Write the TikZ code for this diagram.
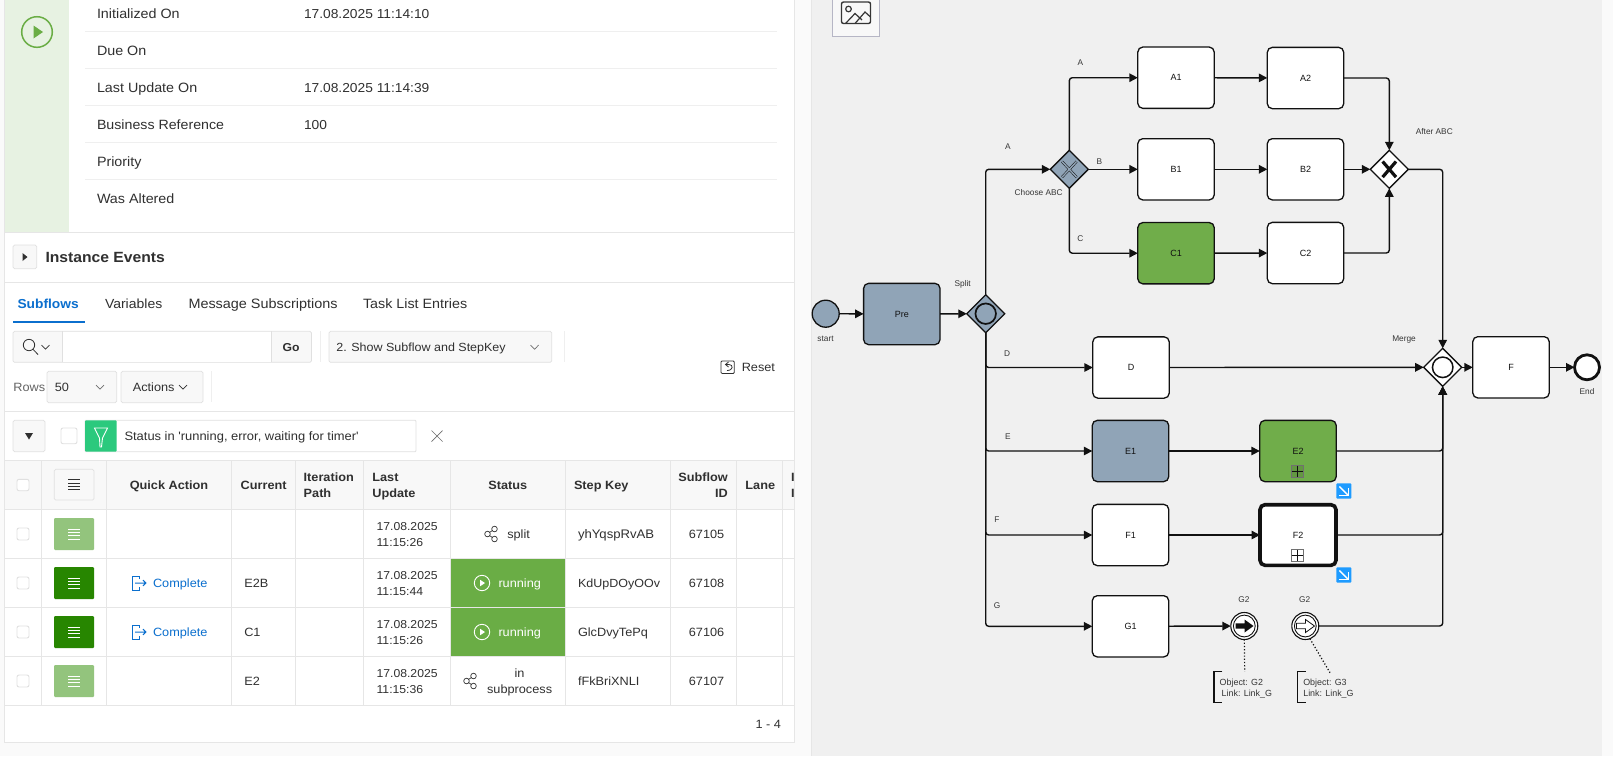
\documentclass[tikz,border=0pt]{standalone}
\usepackage{fontspec}
\usetikzlibrary{arrows.meta,shapes.geometric}
\newfontfamily\uifam[FakeStretch=1.06]{Liberation Sans}
\newfontfamily\diafam{Liberation Sans}
\definecolor{pagebg}{HTML}{FAFAFA}
\definecolor{rule}{HTML}{E6E6E6}
\definecolor{softrule}{HTML}{EFEFEF}
\definecolor{softgreen}{HTML}{E7F2E2}
\definecolor{okgreen}{HTML}{6AAD45}
\definecolor{lightbtn}{HTML}{93C47D}
\definecolor{darkbtn}{HTML}{278600}
\definecolor{linkblue}{HTML}{0B6FCE}
\definecolor{uitext}{HTML}{303030}
\definecolor{ctl}{HTML}{F8F8F8}
\definecolor{ctlborder}{HTML}{E0E0E0}
\definecolor{filtergreen}{HTML}{2BC97D}
\definecolor{panel}{HTML}{F0F0F0}
\definecolor{slate}{HTML}{90A4B7}
\definecolor{taskgreen}{HTML}{70AD4A}
\definecolor{badge}{HTML}{1E9BFF}
\definecolor{ink}{HTML}{111111}
\tikzset{
  ui/.style={inner sep=0,outer sep=0,yshift=-2.8pt,text=uitext,font=\uifam\fontsize{#1}{#1}\selectfont},
  uib/.style={inner sep=0,outer sep=0,yshift=-2.8pt,text=uitext,font=\uifam\bfseries\fontsize{#1}{#1}\selectfont},
  lw/.style={anchor=mid west},
  ctlbox/.style={fill=ctl,draw=ctlborder,line width=.7pt,rounded corners=1.5pt},
  hair/.style={draw=rule,line width=.8pt},
  softhair/.style={draw=softrule,line width=.8pt},
  chev/.style={draw=#1,line width=.7pt},
  cbox/.style={fill=white,draw=ctlborder,line width=.9pt,rounded corners=2pt},
  ham/.style={draw=#1,line width=.8pt},
  task/.style={draw=ink,line width=1.3pt,rounded corners=5pt,fill=white,minimum width=76.4pt,minimum height=61.3pt,inner sep=0,outer sep=0,text=ink,font=\diafam\fontsize{9}{9}\selectfont},
  gate/.style={diamond,draw=ink,line width=1.3pt,minimum width=38pt,minimum height=38pt,inner sep=0,outer sep=0,fill=white},
  flow/.style={draw=ink,line width=1.4pt,rounded corners=3pt,-{Triangle[length=8.5pt,width=8.5pt]}},
  tag/.style={inner sep=0,outer sep=0,yshift=-1.5pt,text=ink!85,font=\diafam\fontsize{8.3}{8.3}\selectfont,anchor=mid},
  notetext/.style={inner sep=0,outer sep=0,yshift=-.8pt,text=ink!85,font=\diafam\fontsize{8.9}{8.9}\selectfont,anchor=mid west},
  ring/.style={circle,draw=ink,inner sep=0,outer sep=0,minimum size=#1},
}
\newcommand{\sharedots}[1]{%
  \begin{scope}[shift={(#1)},draw=uitext,line width=.7pt]
    \draw (-4.5,0) circle (2.8) (2.5,-5) circle (2.8) (2.5,5) circle (2.8);
    \draw (-2.5,-1.5) -- (.5,-3.6) (-2.5,1.5) -- (.5,3.6);
  \end{scope}}
\newcommand{\playround}[1]{%
  \begin{scope}[shift={(#1)}]
    \draw[white,line width=.9pt] (0,0) circle (7.7);
    \fill[white] (-1.8,-3.2) -- (3,0) -- (-1.8,3.2) -- cycle;
  \end{scope}}
\newcommand{\completeicon}[1]{%
  \begin{scope}[shift={(#1)},draw=linkblue,line width=1pt]
    \draw (6,-4) -- (6,-7) -- (-1,-7) -- (-1,7) -- (6,7) -- (6,4);
    \draw (2,0) -- (13,0) (10,-2.8) -- (13,0) -- (10,2.8);
  \end{scope}}
\newcommand{\hamb}[2]{%
  \begin{scope}[shift={(#1)}]
    \foreach \yy in {-5,-1.7,1.7,5} \draw[ham=#2] (-5.8,\yy) -- (5.8,\yy);
  \end{scope}}
\newcommand{\rowbox}[2]{\fill[#2,rounded corners=1pt] (54.2,#1-16) rectangle (94,#1+16); \hamb{74,#1}{white}}
\newcommand{\rowcheck}[1]{\draw[cbox] (17,#1-6) rectangle (29,#1+6);}
\newcommand{\blueb}[1]{%
  \begin{scope}[shift={(#1)}]
    \fill[badge,rounded corners=1pt] (-7.5,-7.7) rectangle (7.5,7.7);
    \draw[white,line width=1.4pt] (-4.5,-4.5) -- (4.2,4.2);
    \draw[white,line width=1.4pt] (-4.5,4.6) -- (4.6,4.6) -- (4.6,-3);
  \end{scope}}
\newcommand{\submark}[2]{%
  \begin{scope}[shift={(#1)}]
    \draw[draw=ink!60,line width=.8pt,fill=#2] (-5.8,-5.8) rectangle (5.8,5.8);
    \draw[ink,line width=1.1pt] (0,-5.8) -- (0,5.8) (-5.8,0) -- (5.8,0);
  \end{scope}}
\begin{document}
\begin{tikzpicture}[x=1pt,y=-1pt]
\useasboundingbox (0,0) rectangle (1613,756);
\fill[pagebg] (0,0) rectangle (1613,756);
% card
\fill[white] (5,-2) rectangle (794,742);
\draw[draw=rule,line width=.8pt] (4.8,-2) -- (4.8,742) -- (794,742) -- (794,-2);
\fill[softgreen] (5,0) rectangle (69,232);
\draw[okgreen,line width=1.5pt] (37,32) circle (15.3);
\fill[okgreen] (33.5,25.5) -- (43,32) -- (33.5,38.5) -- cycle;
\foreach \yy in {31.5,68.5,105.5,142.5,179.5} \draw[softhair] (85,\yy) -- (777,\yy);
\node[ui=13.5,lw] (lInit) at (97,14) {Initialized On};
\node[ui=13,lw] (vInit) at (304,14) {17.08.2025 11:14:10};
\node[ui=13.5,lw] (lDue) at (97,51) {Due On};
\node[ui=13.5,lw] (lLast) at (97,88) {Last Update On};
\node[ui=13,lw] (vLast) at (304,88) {17.08.2025 11:14:39};
\node[ui=13.4,lw] (lBiz) at (97,125) {Business Reference};
\node[ui=13,lw] (vBiz) at (304,125) {100};
\node[ui=13.5,lw] (lPrio) at (97,162) {Priority};
\node[ui=13.5,lw] (lAlt) at (97,199) {Was Altered};
\draw[draw=rule,line width=1pt] (5,232.6) -- (794,232.6);
\draw[ctlbox] (13,245) rectangle (36.7,268.7);
\fill[uitext] (22.5,253) -- (27.5,257) -- (22.5,261) -- cycle;
\node[uib=14.8,lw] (hEvents) at (45.5,258) {Instance Events};
\draw[draw=rule,line width=1.6pt] (5,282.4) -- (794,282.4);
% tabs
\node[uib=13,lw,text=linkblue] (tSub) at (17.5,304) {Subflows};
\node[ui=13.2,lw] (tVar) at (105,304) {Variables};
\node[ui=13.6,lw] (tMsg) at (188.5,304) {Message Subscriptions};
\node[ui=13.5,lw] (tTask) at (363,304) {Task List Entries};
\draw[linkblue,line width=1.7pt] (13,322) -- (85,322);
% search
\draw[ctlbox] (13,331.3) rectangle (311.5,362.3);
\fill[white] (62.5,331.6) rectangle (271.7,362);
\draw[ctlborder,line width=.7pt] (62.5,331.3) -- (62.5,362.3) (271.7,331.3) -- (271.7,362.3);
\draw[uitext,line width=.8pt] (29,345) circle (5.7) (33,349.3) -- (38,354.5);
\draw[chev=uitext] (41.5,345.2) -- (45.5,349.2) -- (49.5,345.2);
\node[uib=11.5,anchor=mid] (go) at (291,347) {Go};
\draw[softhair] (320,331) -- (320,362);
\draw[ctlbox] (329,331.3) rectangle (551.7,362.3);
\node[ui=11.8,lw] (view) at (336.3,347) {2. Show Subflow and StepKey};
\draw[chev=uitext!70] (530.5,345) -- (534.6,349.2) -- (538.7,345);
\draw[softhair] (564,331) -- (564,362);
\draw[uitext,line width=.8pt,rounded corners=1pt] (721,361) rectangle (734.3,373.4);
\draw[uitext,line width=.8pt] (728.5,362) -- (725.5,364.5) -- (728.5,367) (725.5,364.5) -- (729,364.5) .. controls (733.5,364.5) and (733.5,370.5) .. (727,370.5);
\node[ui=12,lw] (reset) at (741.8,366.5) {Reset};
\node[ui=12,lw,text=uitext!75] (rows) at (13.4,386.7) {Rows};
\draw[ctlbox] (47,371.3) rectangle (116.7,402.7);
\node[ui=12,lw] (fifty) at (54.8,386.7) {50};
\draw[chev=uitext!70] (96,385) -- (100,389) -- (104,385);
\draw[ctlbox] (121,371.3) rectangle (203,402.7);
\node[ui=12,lw] (act) at (132.8,386.7) {Actions};
\draw[chev=uitext] (179,385) -- (183,389) -- (187,385);
\draw[softhair] (211.8,371) -- (211.8,402);
\draw[hair] (5,411.3) -- (794,411.3);
% filter
\draw[ctlbox] (13,420.3) rectangle (45,451.7);
\fill[uitext] (25,433) -- (33,433) -- (29,439.5) -- cycle;
\draw[cbox] (61,428) rectangle (77,443.7);
\draw[draw=ctlborder,fill=white,line width=.8pt,rounded corners=1pt] (85,420.3) rectangle (416,451.7);
\fill[filtergreen,rounded corners=1pt] (85,420.3) rectangle (116.7,451.7);
\draw[white,line width=.9pt] (94.5,428) -- (107.5,428) -- (102.5,438) -- (101.5,447) -- (100,447) -- (99.5,438) -- cycle;
\node[ui=12.2,lw,text=uitext] (fText) at (124.5,436) {Status in 'running, error, waiting for timer'};
\draw[uitext!70,line width=.7pt] (431.5,430.5) -- (442.5,441.5) (442.5,430.5) -- (431.5,441.5);
% table
\fill[ctl] (5,460.3) rectangle (794,509.7);
\foreach \yy in {460.3,509.7,558.3,607.3,656.3,705.3} \draw[hair] (5,\yy) -- (794,\yy);
\foreach \xx in {41.3,106.4,231.4,295.5,363.7,450.4,565.6,670.5,736.6,782.6} \draw[hair] (\xx,460.3) -- (\xx,705.3);
\fill[okgreen] (451,559) rectangle (565.2,606.8);
\fill[okgreen] (451,608) rectangle (565.2,655.8);
\draw[cbox] (17,479.3) rectangle (29,490.7);
\draw[ctlbox,fill=ctl] (54.2,469.3) rectangle (94,500);
\hamb{74,484.7}{uitext}
\node[uib=12,anchor=mid] (hQA) at (169,484.7) {Quick Action};
\node[uib=12,lw] (hCur) at (240.7,484.7) {Current};
\node[uib=12,lw] (hIt1) at (303.7,476.7) {Iteration};
\node[uib=12,lw] (hIt2) at (303.7,492.7) {Path};
\node[uib=12,lw] (hLU1) at (372.4,476.7) {Last};
\node[uib=12,lw] (hLU2) at (372.4,492.7) {Update};
\node[uib=12,anchor=mid] (hSt) at (507.8,484.7) {Status};
\node[uib=12,lw] (hKey) at (574,484.7) {Step Key};
\node[uib=12,anchor=mid east] (hID1) at (727.8,476.7) {Subflow};
\node[uib=12,anchor=mid east] (hID2) at (727.8,492.7) {ID};
\node[uib=12,lw] (hLane) at (745.4,484.7) {Lane};
\begin{scope}
\clip (783,460) rectangle (794,510);
\node[uib=12,lw] (hX1) at (791,476.7) {I};
\node[uib=12,lw] (hX2) at (791,492.7) {I};
\end{scope}
% rows
\rowcheck{534}\rowcheck{583}\rowcheck{632}\rowcheck{681}
\rowbox{534}{lightbtn}\rowbox{583}{darkbtn}\rowbox{632}{darkbtn}\rowbox{681}{lightbtn}
\completeicon{133,583}\completeicon{133,632}
\node[ui=12,lw,text=linkblue] (cA) at (153,583) {Complete};
\node[ui=12,lw,text=linkblue] (cB) at (153,632) {Complete};
\node[ui=12,lw] (cur2) at (244.3,583) {E2B};
\node[ui=12,lw] (cur3) at (244.3,632) {C1};
\node[ui=12,lw] (cur4) at (244.3,681) {E2};
\node[ui=11.5,lw] (d1a) at (376.6,525.7) {17.08.2025};
\node[ui=11.5,lw] (d1b) at (376.6,541.7) {11:15:26};
\node[ui=11.5,lw] (d2a) at (376.6,574.7) {17.08.2025};
\node[ui=11.5,lw] (d2b) at (376.6,590.7) {11:15:44};
\node[ui=11.5,lw] (d3a) at (376.6,623.7) {17.08.2025};
\node[ui=11.5,lw] (d3b) at (376.6,639.7) {11:15:26};
\node[ui=11.5,lw] (d4a) at (376.6,672.7) {17.08.2025};
\node[ui=11.5,lw] (d4b) at (376.6,688.7) {11:15:36};
\sharedots{492,534}
\node[ui=12,lw] (s1) at (507.3,534) {split};
\playround{482,583}\playround{482,632}
\node[ui=12,lw,text=white] (s2) at (498.5,583) {running};
\node[ui=12,lw,text=white] (s3) at (498.5,632) {running};
\sharedots{471,681}
\node[ui=12,anchor=mid] (s4a) at (519.6,673) {in};
\node[ui=12,anchor=mid] (s4b) at (519.6,689) {subprocess};
\node[ui=12.4,lw] (k1) at (578,534) {yhYqspRvAB};
\node[ui=11.8,lw] (k2) at (578,583) {KdUpDOyOOv};
\node[ui=12,lw] (k3) at (578,632) {GlcDvyTePq};
\node[ui=12,lw] (k4) at (578,681) {fFkBriXNLI};
\node[ui=12,anchor=mid] (i1) at (706.6,534) {67105};
\node[ui=12,anchor=mid] (i2) at (706.6,583) {67108};
\node[ui=12,anchor=mid] (i3) at (706.6,632) {67106};
\node[ui=12,anchor=mid] (i4) at (706.6,681) {67107};
\node[ui=12,anchor=mid east] (pg) at (781,723.7) {1 - 4};
% diagram panel
\fill[panel] (811,0) rectangle (1601.7,756);
\draw[draw=rule,line width=.8pt] (811,0) -- (811,756);
\draw[fill=ctl,draw=black!20!blue!15!gray!50,line width=.7pt] (832.3,-2) rectangle (879.7,36.3);
\draw[draw=ink!85,line width=1.4pt,rounded corners=2pt] (841.5,2) rectangle (870.5,23.5);
\draw[draw=ink!85,line width=1.2pt] (848.5,9) circle (2.8);
\draw[draw=ink!85,line width=1.2pt] (845.5,23.5) -- (855,13.5) -- (862,20) (855,23.5) -- (865,12) -- (870.5,17);
% tasks
\node[ring=27pt,fill=slate,line width=1.3pt] (start) at (825.7,313.7) {};
\node[task,fill=slate] (pre) at (901.8,314) {Pre};
\node[gate,fill=slate] (split) at (985.7,313.7) {};
\node[ring=20.5pt,line width=1.7pt] (splitmk) at (985.7,313.7) {};
\node[gate,fill=slate] (choose) at (1069.3,169.3) {};
\node[task] (a1) at (1176,77.7) {A1};
\node[task] (b1) at (1176,169.3) {B1};
\node[task,fill=taskgreen] (c1) at (1176,253.2) {C1};
\node[task] (a2) at (1305.5,78) {A2};
\node[task] (b2) at (1305.5,169.3) {B2};
\node[task] (c2) at (1305.5,253) {C2};
\node[gate] (after) at (1389.3,169.3) {};
\node[gate] (merge) at (1442.7,367.3) {};
\node[ring=20.5pt,line width=1.5pt] (mergemk) at (1442.7,367.3) {};
\node[task] (d) at (1131,367.5) {D};
\node[task,fill=slate] (e1) at (1130.5,451) {E1};
\node[task,fill=taskgreen] (e2) at (1298,451) {E2};
\node[task] (f1) at (1130.5,535) {F1};
\node[task,line width=3.6pt,minimum width=76pt,minimum height=60.6pt] (f2) at (1298,535) {F2};
\node[task] (g1) at (1130.5,626.3) {G1};
\node[task] (f) at (1511,367.3) {F};
\node[ring=25pt,fill=white,line width=2.8pt] (end) at (1587,367.3) {};
\node[ring=27pt,fill=white,line width=1.1pt] (g2ev) at (1244.3,626) {};
\node[ring=27pt,fill=white,line width=1.1pt] (g3ev) at (1305.3,626) {};
% gateway marks
\draw[ink,line width=2.4pt] (1062,161.5) -- (1076.6,177.2) (1076.6,161.5) -- (1062,177.2);
\draw[slate,line width=1.4pt] (1062,161.5) -- (1076.6,177.2) (1076.6,161.5) -- (1062,177.2);
\draw[ink,line width=3.2pt] (1382.6,161.5) -- (1396,177.1) (1396,161.5) -- (1382.6,177.1);
% event marks
\draw[ink,line width=.9pt] (1244.3,626) circle (10.9);
\draw[ink,line width=.9pt] (1305.3,626) circle (10.9);
\fill[ink] (1235.5,623.3) -- (1244.5,623.3) -- (1244.5,619.5) -- (1253.5,626) -- (1244.5,632.5) -- (1244.5,628.7) -- (1235.5,628.7) -- cycle;
\draw[ink,line width=.8pt,fill=white] (1296.5,623.3) -- (1305.5,623.3) -- (1305.5,619.5) -- (1314.5,626) -- (1305.5,632.5) -- (1305.5,628.7) -- (1296.5,628.7) -- cycle;
% markers
\submark{1297.5,471.5}{black!12!taskgreen}
\submark{1297.5,555.3}{white}
\blueb{1343.8,491}
\blueb{1343.8,575}
% flows
\draw[flow] (start) -- (pre);
\draw[flow] (pre) -- (split);
\draw[flow] (split.north) |- (choose.west);
\draw[flow] (choose.north) |- (a1.west);
\draw[flow] (choose) -- (b1);
\draw[flow] (choose.south) |- (c1.west);
\draw[flow] (a1) -- (a2);
\draw[flow] (b1) -- (b2);
\draw[flow] (c1) -- (c2);
\draw[flow] (a2.east) -| (after.north);
\draw[flow] (b2) -- (after);
\draw[flow] (c2.east) -| (after.south);
\draw[flow] (after.east) -| (merge.north);
\draw[flow] (split.south) |- (d.west);
\draw[flow] (split.south) |- (e1.west);
\draw[flow] (split.south) |- (f1.west);
\draw[flow] (split.south) |- (g1.west);
\draw[flow] (d) -- (merge);
\draw[flow] (e1) -- (e2);
\draw[flow] (f1) -- (f2);
\draw[flow] (g1) -- (g2ev);
\draw[flow] (e2.east) -| (merge.south);
\draw[flow] (f2.east) -| (merge.south);
\draw[flow] (g3ev.east) -| (merge.south);
\draw[flow] (merge) -- (f);
\draw[flow] (f) -- (end);
% labels
\node[tag] (tStart) at (825.5,338) {start};
\node[tag] (tSplit) at (962.7,283) {Split};
\node[tag] (tA0) at (1008,146) {A};
\node[tag] (tChoose) at (1038.7,191.5) {Choose ABC};
\node[tag] (tA) at (1080.3,62) {A};
\node[tag] (tB) at (1099.3,161) {B};
\node[tag] (tC) at (1080.3,238) {C};
\node[tag] (tAfter) at (1434.3,131) {After ABC};
\node[tag] (tMerge) at (1404,338) {Merge};
\node[tag] (tEnd) at (1587,391) {End};
\node[tag] (tD) at (1007,353) {D};
\node[tag] (tE) at (1008,436) {E};
\node[tag] (tF) at (997,519) {F};
\node[tag] (tG) at (997,605) {G};
\node[tag] (tG2a) at (1244,598.5) {G2};
\node[tag] (tG2b) at (1304.7,598.5) {G2};
% annotations
\coordinate (noteA) at (1244.7,671.7);
\coordinate (noteB) at (1330,672.7);
\draw[ink,line width=1.2pt,dotted] (g2ev.south) -- (noteA);
\draw[ink,line width=1.2pt,dotted] (g3ev.-70) -- (noteB);
\draw[ink,line width=1.1pt] (1222.3,671.7) -- (1214,671.7) -- (1214,702.7) -- (1222.3,702.7);
\draw[ink,line width=1.1pt] (1305.7,671.7) -- (1297.7,671.7) -- (1297.7,702.7) -- (1305.7,702.7);
\node[notetext] (n1a) at (1219.7,682.7) {Object: G2};
\node[notetext] (n1b) at (1221.7,693.7) {Link: Link\_G};
\node[notetext] (n2a) at (1303.3,682.7) {Object: G3};
\node[notetext] (n2b) at (1303.3,693.7) {Link: Link\_G};
\end{tikzpicture}
\end{document}
